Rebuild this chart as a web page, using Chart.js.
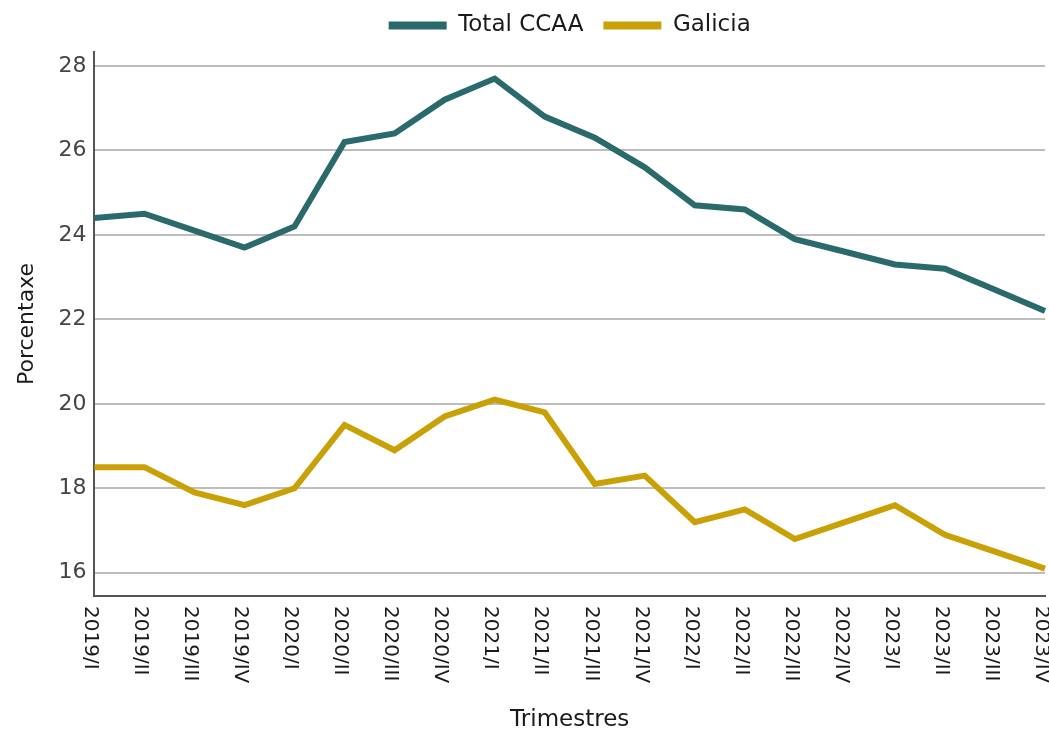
<!DOCTYPE html>
<html>
<head>
<meta charset="utf-8">
<script src="https://cdn.jsdelivr.net/npm/chart.js@4/dist/chart.umd.min.js"></script>
<style>
  body { margin: 0; background: #fff; }
  #chart { display: block; }
</style>
</head>
<body>
<canvas id="chart" width="1049" height="734"></canvas>
<script>
const QUARTERS = ['2019/I', '2019/II', '2019/III', '2019/IV', '2020/I', '2020/II', '2020/III', '2020/IV',
    '2021/I', '2021/II', '2021/III', '2021/IV', '2022/I', '2022/II', '2022/III', '2022/IV',
    '2023/I', '2023/II', '2023/III', '2023/IV'];
const TOTAL_CCAA = [24.4, 24.5, 24.1, 23.7, 24.2, 26.2, 26.4, 27.2, 27.7, 26.8, 26.3, 25.6,
    24.7, 24.6, 23.9, 23.6, 23.3, 23.2, 22.7, 22.2];
const GALICIA = [18.5, 18.5, 17.9, 17.6, 18.0, 19.5, 18.9, 19.7, 20.1, 19.8, 18.1, 18.3,
    17.2, 17.5, 16.8, 17.2, 17.6, 16.9, 16.5, 16.1];

const FONT = "'DejaVu Sans', Verdana, sans-serif";

// x labels read top-to-bottom, so draw them ourselves (Chart.js rotates the other way)
const downLabels = {
    id: 'downLabels',
    beforeInit(chart) {
        // a bit more room between legend and plot
        const fit = chart.legend.fit;
        chart.legend.fit = function () { fit.call(this); this.height += 5; };
    },
    afterDraw(chart) {
        const x = chart.scales.x;
        const ctx = chart.ctx;
        ctx.save();
        ctx.font = '20px ' + FONT;
        ctx.fillStyle = '#1a1a1a';
        ctx.textAlign = 'left';
        ctx.textBaseline = 'middle';
        x.ticks.forEach((t, i) => {
            ctx.save();
            ctx.translate(x.getPixelForTick(i), x.top + 10);
            ctx.rotate(Math.PI / 2);
            ctx.fillText(x.getLabelForValue(t.value), 0, 4);
            ctx.restore();
        });
        ctx.restore();
    }
};

new Chart(document.getElementById('chart'), {
    type: 'line',
    data: {
        labels: QUARTERS,
        datasets: [
            { label: 'Total CCAA', data: TOTAL_CCAA, borderColor: '#2a6a6d', backgroundColor: '#2a6a6d' },
            { label: 'Galicia', data: GALICIA, borderColor: '#c9a106', backgroundColor: '#c9a106' }
        ].map(d => Object.assign(d, { borderWidth: 6, pointRadius: 0, tension: 0, fill: false }))
    },
    options: {
        responsive: false,
        animation: false,
        layout: { padding: { top: -6, right: 4, left: 14, bottom: 0 } },
        plugins: {
            legend: {
                position: 'top',
                fullSize: false,
                labels: {
                    color: '#1a1a1a',
                    font: { family: FONT, size: 23 },
                    boxWidth: 58,
                    boxHeight: 8,
                    padding: 20,
                    generateLabels(chart) {
                        return Chart.defaults.plugins.legend.labels.generateLabels(chart)
                            .map(l => Object.assign(l, { lineWidth: 0 }));
                    }
                }
            },
            tooltip: { enabled: false }
        },
        scales: {
            x: {
                offset: false,
                grid: { display: false },
                border: { color: '#555', width: 2 },
                ticks: { display: false },
                afterFit(scale) { scale.height = 138; },
                title: { display: true, text: 'Trimestres', color: '#1a1a1a', font: { family: FONT, size: 23 }, padding: 0 }
            },
            y: {
                min: 15.45,
                max: 28.33,
                grid: { color: '#bdbdbd', lineWidth: 2, drawTicks: false },
                border: { color: '#555', width: 2 },
                ticks: { stepSize: 2, includeBounds: false, color: '#444', font: { family: FONT, size: 22 }, padding: 8 },
                title: { display: true, text: 'Porcentaxe', color: '#1a1a1a', font: { family: FONT, size: 22 }, padding: { top: 0, bottom: 10 } }
            }
        }
    },
    plugins: [downLabels]
});
</script>
</body>
</html>
